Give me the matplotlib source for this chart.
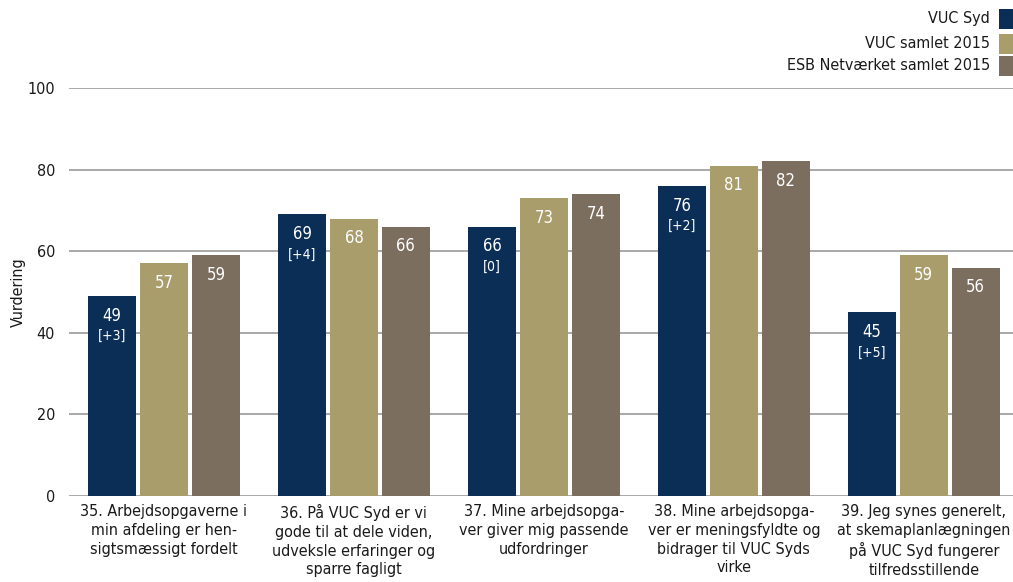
import numpy as np
import matplotlib.pyplot as plt
from matplotlib.patches import Rectangle

plt.rcParams['font.family'] = 'DejaVu Sans'
plt.rcParams['font.stretch'] = 'condensed'

# data
categories = [
    "35. Arbejdsopgaverne i\nmin afdeling er hen-\nsigtsmæssigt fordelt",
    "36. På VUC Syd er vi\ngode til at dele viden,\nudveksle erfaringer og\nsparre fagligt",
    "37. Mine arbejdsopga-\nver giver mig passende\nudfordringer",
    "38. Mine arbejdsopga-\nver er meningsfyldte og\nbidrager til VUC Syds\nvirke",
    "39. Jeg synes generelt,\nat skemaplanlægningen\npå VUC Syd fungerer\ntilfredsstillende",
]
series_names = ["VUC Syd", "VUC samlet 2015", "ESB Netværket samlet 2015"]
vuc_syd = [49, 69, 66, 76, 45]
vuc_samlet = [57, 68, 73, 81, 59]
esb_samlet = [59, 66, 74, 82, 56]
changes = ["[+3]", "[+4]", "[0]", "[+2]", "[+5]"]

colors = ["#0B2E57", "#A99D6C", "#7B6E5E"]
text_col = "#1a1a1a"
fs = 11.5

fig = plt.figure(figsize=(10.13, 5.82), dpi=100)
ax = fig.add_axes([69 / 1013, 1 - 496 / 582, 944 / 1013, 408 / 582])

x = np.arange(len(categories))
w = 0.253
step = 0.273
values = [vuc_syd, vuc_samlet, esb_samlet]
for i, vals in enumerate(values):
    xs = x + (i - 1) * step
    ax.bar(xs, vals, width=w, color=colors[i], zorder=3)
    for j, v in enumerate(vals):
        ax.text(xs[j], v - 2.6, str(v), ha="center", va="top", color="white",
                fontsize=12, zorder=4)
        if i == 0:
            ax.text(xs[j], v - 8.1, changes[j], ha="center", va="top",
                    color="white", fontsize=10, zorder=4)

ax.set_ylim(0, 100)
ax.set_xlim(-0.5, 4.47)
ax.set_yticks([0, 20, 40, 60, 80, 100])
ax.yaxis.grid(True, color="#9a9a9a", linewidth=1.2, zorder=0)
ax.tick_params(axis="y", length=0, pad=10, labelsize=fs, labelcolor=text_col)
ax.tick_params(axis="x", length=0, pad=6)
ax.set_xticks(x)
ax.set_xticklabels(categories, fontsize=fs, color=text_col, linespacing=1.3,
                   va="top")
for s in ax.spines.values():
    s.set_visible(False)
ax.set_ylabel("Vurdering", fontsize=fs, color=text_col)
ax.yaxis.set_label_coords(-43 / 944, 0.5)

# legend, text right-aligned with swatches on the right
leg_y = [19, 44, 66]
for name, c, yy in zip(series_names, colors, leg_y):
    fig.text(990 / 1013, 1 - yy / 582, name, ha="right", va="center",
             fontsize=fs, color=text_col)
    fig.patches.append(Rectangle((999 / 1013, 1 - (yy + 10) / 582), 14 / 1013,
                                 20 / 582, transform=fig.transFigure,
                                 facecolor=c, edgecolor="none"))

fig.savefig("out.png", dpi=100)
